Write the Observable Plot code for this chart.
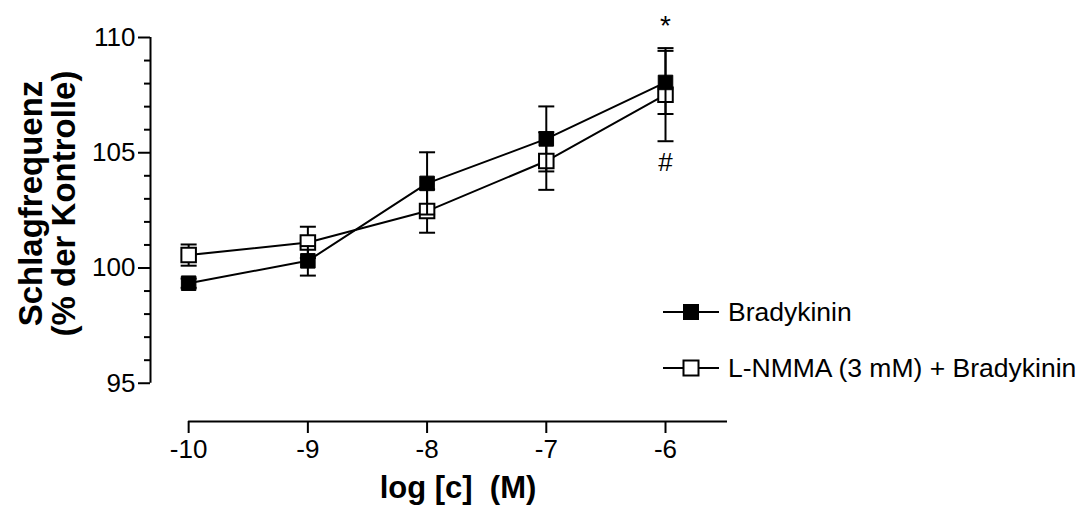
<!DOCTYPE html>
<html>
<head>
<meta charset="utf-8">
<script src="https://cdn.jsdelivr.net/npm/d3@7"></script>
<script src="https://cdn.jsdelivr.net/npm/@observablehq/plot@0.6"></script>
<style>
  body { margin: 0; background: #fff; }
  #chart { position: relative; width: 1081px; height: 515px; font-family: "Liberation Sans", Arial, sans-serif; }
  #chart svg { display: block; }
  .legend-row { position: absolute; left: 663px; height: 30px; display: flex; align-items: center; }
  .legend-row span { margin-left: 9px; font-size: 26.5px; color: #000; white-space: nowrap; }
</style>
</head>
<body>
<div id="chart"></div>
<script>
// Beating frequency (% of control) versus log concentration, mean ± SEM
const logConc = [-10, -9, -8, -7, -6];
const bradykinin = [99.34, 100.31, 103.67, 105.60, 108.05];
const bradykininSem = [0.2, 0.64, 1.35, 1.41, 1.37];
const lnmma = [100.56, 101.11, 102.47, 104.64, 107.52];
const lnmmaSem = [0.46, 0.68, 0.94, 1.25, 2.02];
const seriesNames = ["Bradykinin", "L-NMMA (3 mM) + Bradykinin"];

const yTicks = [95, 100, 105, 110];
const yMinorTicks = [96, 97, 98, 99, 101, 102, 103, 104, 106, 107, 108, 109];
const xTicks = [-10, -9, -8, -7, -6];
const xTitle = "log [c]\u00a0\u00a0(M)";
const yTitle = "Schlagfrequenz\n(% der Kontrolle)";

// significance marks at the highest concentration
const signif = [
  {label: "*", series: 0, index: 4, side: "above"},
  {label: "#", series: 1, index: 4, side: "below"}
];

const xDomain = [-10.32, -5.48];
const yDomain = [93.34, 110];

const series = [
  {name: seriesNames[0], values: bradykinin, sem: bradykininSem, fill: "#000", strokeWidth: 1},
  {name: seriesNames[1], values: lnmma, sem: lnmmaSem, fill: "#fff", strokeWidth: 2}
];
const rows = series.map(s => logConc.map((x, i) => ({
  x, y: s.values[i], lo: s.values[i] - s.sem[i], hi: s.values[i] + s.sem[i]
})));

// horizontal bar used as error-bar cap
const capSymbol = {
  draw(ctx) { ctx.moveTo(-8, 0); ctx.lineTo(8, 0); }
};

function seriesMarks(s, data) {
  return [
    Plot.line(data, {x: "x", y: "y", stroke: "#000", strokeWidth: 2}),
    Plot.ruleX(data, {x: "x", y1: "lo", y2: "hi", stroke: "#000", strokeWidth: 2}),
    Plot.dot(data, {x: "x", y: "hi", symbol: capSymbol, r: 4, stroke: "#000", strokeWidth: 2, fill: "none"}),
    Plot.dot(data, {x: "x", y: "lo", symbol: capSymbol, r: 4, stroke: "#000", strokeWidth: 2, fill: "none"}),
    Plot.dot(data, {x: "x", y: "y", symbol: "square", r: 8.2, fill: s.fill, stroke: "#000", strokeWidth: s.strokeWidth})
  ];
}

const signifData = signif.map(d => {
  const s = series[d.series];
  const v = s.values[d.index], e = s.sem[d.index];
  return {x: logConc[d.index], y: d.side === "above" ? v + e : v - e, label: d.label, side: d.side};
});

const plot = Plot.plot({
  width: 1081,
  height: 515,
  marginLeft: 150,
  marginRight: 354,
  marginTop: 37,
  marginBottom: 94,
  style: {fontFamily: "'Liberation Sans', Arial, sans-serif", color: "#000", background: "#fff", overflow: "visible"},
  x: {domain: xDomain},
  y: {domain: yDomain},
  marks: [
    // axis lines
    Plot.ruleX([xDomain[0]], {y1: yTicks[0], y2: yTicks[yTicks.length - 1], stroke: "#000", strokeWidth: 2}),
    Plot.ruleY([yDomain[0]], {x1: xTicks[0], x2: xDomain[1], stroke: "#000", strokeWidth: 2}),
    Plot.axisY({anchor: "left", ticks: yMinorTicks, tickSize: 6, tickFormat: () => "", strokeWidth: 2, label: null}),
    Plot.axisY({anchor: "left", ticks: yTicks, tickSize: 12, tickPadding: 3, fontSize: 26, strokeWidth: 2, label: null, tickFormat: d => String(d)}),
    Plot.axisX({anchor: "bottom", ticks: xTicks, tickSize: 12, tickPadding: 6, fontSize: 26, strokeWidth: 2, label: null, tickFormat: d => String(d)}),
    // axis titles
    Plot.text([xTitle], {frameAnchor: "bottom", text: d => d, dy: 76, dx: 19, fontSize: 31, fontWeight: "bold"}),
    Plot.text([yTitle], {frameAnchor: "left", textAnchor: "middle", text: d => d, rotate: -90, dx: -103, dy: -26, fontSize: 33, fontWeight: "bold", lineHeight: 1.0}),
    // data: open squares first, filled series on top
    ...seriesMarks(series[1], rows[1]),
    ...seriesMarks(series[0], rows[0]),
    Plot.text(signifData.filter(d => d.side === "above"), {x: "x", y: "y", text: "label", dy: -25, fontSize: 28}),
    Plot.text(signifData.filter(d => d.side === "below"), {x: "x", y: "y", text: "label", dy: 21, fontSize: 26})
  ]
});

const chart = document.getElementById("chart");
chart.appendChild(plot);

// legend: line-square-line sample followed by the series name
const legendTops = [297, 353];
series.forEach((s, i) => {
  const row = document.createElement("div");
  row.className = "legend-row";
  row.style.top = legendTops[i] + "px";
  const svg = d3.create("svg").attr("width", 56).attr("height", 30);
  svg.append("line").attr("x1", 0).attr("x2", 56).attr("y1", 15).attr("y2", 15).attr("stroke", "#000").attr("stroke-width", 2);
  svg.append("rect").attr("x", 20.5).attr("y", 7.5).attr("width", 15).attr("height", 15)
    .attr("fill", s.fill).attr("stroke", "#000").attr("stroke-width", s.strokeWidth);
  row.appendChild(svg.node());
  const label = document.createElement("span");
  label.textContent = s.name;
  row.appendChild(label);
  chart.appendChild(row);
});
</script>
</body>
</html>
